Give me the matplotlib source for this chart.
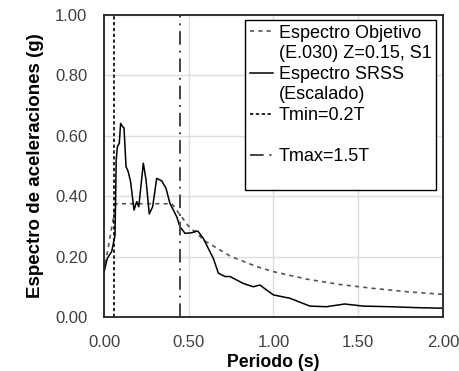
import matplotlib.pyplot as plt
from matplotlib.lines import Line2D

plt.rcParams["font.family"] = ["Liberation Sans", "DejaVu Sans"]

# Espectro objetivo E.030 (Z=0.15, S1)
periodo_obj = [0.00, 0.07, 0.40, 0.50, 0.60, 0.75, 0.90, 1.00, 1.20, 1.40, 1.60, 1.80, 2.00]
sa_obj = [0.15, 0.375, 0.375, 0.30, 0.25, 0.20, 0.167, 0.15, 0.125, 0.107, 0.094, 0.083, 0.075]

# Espectro SRSS escalado
periodo_srss = [
    0.000, 0.020, 0.045, 0.065, 0.072, 0.079, 0.090, 0.098, 0.110, 0.118,
    0.130, 0.143, 0.157, 0.177, 0.193, 0.205, 0.232, 0.248, 0.267, 0.287,
    0.311, 0.340, 0.366, 0.389, 0.429, 0.448, 0.478, 0.520, 0.545, 0.556,
    0.586, 0.645, 0.675, 0.714, 0.743, 0.822, 0.881, 0.920, 0.960, 1.000,
    1.097, 1.215, 1.313, 1.420, 1.530, 1.687, 1.840, 2.000,
]
sa_srss = [
    0.150, 0.195, 0.216, 0.270, 0.520, 0.564, 0.575, 0.641, 0.630, 0.626,
    0.498, 0.481, 0.448, 0.354, 0.382, 0.365, 0.509, 0.454, 0.341, 0.365,
    0.459, 0.451, 0.426, 0.376, 0.332, 0.299, 0.277, 0.279, 0.285, 0.283,
    0.260, 0.194, 0.145, 0.134, 0.134, 0.111, 0.100, 0.106, 0.089, 0.073,
    0.062, 0.036, 0.034, 0.043, 0.036, 0.034, 0.031, 0.029,
]

t_min = 0.06
t_max = 0.45

x_ticks = [0.0, 0.5, 1.0, 1.5, 2.0]
y_ticks = [0.0, 0.2, 0.4, 0.6, 0.8, 1.0]

obj_style = dict(color="#555555", linestyle=(0, (2.5, 2.5)), linewidth=1.2)
srss_style = dict(color="black", linewidth=1.1)
tmin_style = dict(color="black", linestyle=(0, (2, 1.5)), linewidth=1.2)
tmax_style = dict(color="#444444", linestyle=(0, (7, 3, 1, 3)), linewidth=1.4)

fig = plt.figure(figsize=(4.59, 3.71), dpi=100)
ax = fig.add_axes([0.2266, 0.1456, 0.7384, 0.814])

ax.plot(periodo_obj, sa_obj, **obj_style)
ax.plot(periodo_srss, sa_srss, **srss_style)
ax.axvline(t_min, **tmin_style)
ax.axvline(t_max, **tmax_style)

ax.set_xlim(0, 2)
ax.set_ylim(0, 1)
ax.set_xticks(x_ticks)
ax.set_yticks(y_ticks)
ax.set_xticklabels([f"{v:.2f}" for v in x_ticks])
ax.set_yticklabels([f"{v:.2f}" for v in y_ticks])
ax.tick_params(axis="x", length=0, pad=13, labelsize=12, labelcolor="#404040")
ax.tick_params(axis="y", length=0, pad=12, labelsize=12, labelcolor="#404040")
ax.grid(color="#dddddd", linewidth=1)
ax.set_axisbelow(True)
for spine in ax.spines.values():
    spine.set_linewidth(1.3)
    spine.set_color("#222222")

ax.set_xlabel("Periodo (s)", fontsize=12.7, fontweight="bold", labelpad=3)
ax.set_ylabel("Espectro de aceleraciones (g)", fontsize=13.5, fontweight="bold", labelpad=8)

blank = Line2D([], [], color="none")
handles = [
    Line2D([], [], **obj_style), blank,
    Line2D([], [], **srss_style), blank,
    Line2D([], [], **tmin_style), blank,
    Line2D([], [], **tmax_style), blank,
]
labels = [
    "Espectro Objetivo", "(E.030) Z=0.15, S1",
    "Espectro SRSS", "(Escalado)",
    "Tmin=0.2T", " ",
    "Tmax=1.5T", " ",
]
leg = ax.legend(
    handles, labels,
    loc="upper right", bbox_to_anchor=(0.979, 0.983),
    fontsize=13, handlelength=1.3, handletextpad=0.3,
    labelspacing=0.2, borderpad=0.25, borderaxespad=0,
    fancybox=False, framealpha=1,
)
leg.get_frame().set_edgecolor("black")
leg.get_frame().set_linewidth(1.0)

fig.savefig("out.png", dpi=100)
